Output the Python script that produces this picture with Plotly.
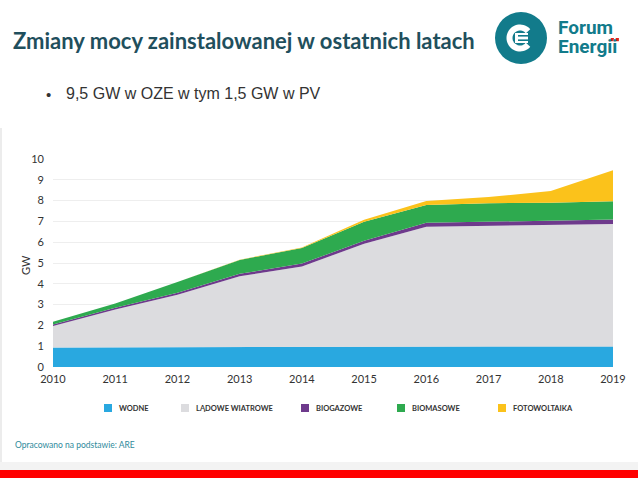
import math
import plotly.graph_objects as go

years = [2010, 2011, 2012, 2013, 2014, 2015, 2016, 2017, 2018, 2019]
series_names = ["WODNE", "LĄDOWE WIATROWE", "BIOGAZOWE", "BIOMASOWE", "FOTOWOLTAIKA"]
wodne = [0.94, 0.95, 0.95, 0.97, 0.98, 0.98, 0.99, 0.99, 0.98, 0.98]
ladowe = [1.03, 1.82, 2.52, 3.39, 3.85, 4.95, 5.75, 5.79, 5.83, 5.89]
biogazowe = [0.07, 0.08, 0.10, 0.12, 0.14, 0.14, 0.19, 0.20, 0.20, 0.22]
biomasowe = [0.14, 0.20, 0.52, 0.67, 0.75, 0.91, 0.86, 0.89, 0.89, 0.88]
fotowoltaika = [0.0, 0.0, 0.0, 0.01, 0.03, 0.10, 0.19, 0.30, 0.56, 1.49]
colors = ["#29a8e0", "#dcdcdf", "#6e3a8c", "#2eaa4f", "#fbc21b"]
y_ticks = list(range(0, 11))

W, H = 638, 478
L, R, T, B = 53, 613, 159, 367


def px(x):
    return (x - L) / (R - L)


def py(y):
    return (B - y) / (B - T)


fig = go.Figure()
for name, vals, col in zip(series_names, [wodne, ladowe, biogazowe, biomasowe, fotowoltaika], colors):
    fig.add_trace(go.Scatter(
        x=years, y=vals, name=name, stackgroup="one", mode="lines",
        line=dict(width=0, color=col), fillcolor=col, showlegend=False,
        hoverinfo="x+y+name",
    ))

shapes = []
annotations = []

# bottom gray strip and red bar
shapes.append(dict(type="rect", xref="paper", yref="paper", x0=px(0), x1=px(W), y0=py(470), y1=py(462),
                   fillcolor="#f3f3f3", line=dict(width=0), layer="below"))
shapes.append(dict(type="rect", xref="paper", yref="paper", x0=px(0), x1=px(W), y0=py(478), y1=py(470),
                   fillcolor="#ff0000", line=dict(width=0), layer="below"))
# faint left border of chart panel
shapes.append(dict(type="line", xref="paper", yref="paper", x0=px(1), x1=px(1), y0=py(128), y1=py(462),
                   line=dict(color="#ececec", width=2), layer="below"))

# logo circle
cx, cy, r = 521, 38, 26
shapes.append(dict(type="circle", xref="paper", yref="paper", x0=px(cx - r), x1=px(cx + r), y0=py(cy + r), y1=py(cy - r),
                   fillcolor="#127b8b", line=dict(width=0)))
# white C arc
pts = []
ac_x, ac_y, ar = 520, 38, 10.5
for i in range(0, 41):
    a = math.radians(40 + i * (280 / 40))
    pts.append((ac_x + ar * math.cos(a), ac_y - ar * math.sin(a)))
path = "M " + " L ".join(f"{px(x):.5f},{py(y):.5f}" for x, y in pts)
shapes.append(dict(type="path", xref="paper", yref="paper", path=path, line=dict(color="white", width=6)))
shapes.append(dict(type="rect", xref="paper", yref="paper", x0=px(515), x1=px(528), y0=py(43), y1=py(33),
                   fillcolor="white", line=dict(width=0)))
for yy in (35.8, 40.2):
    shapes.append(dict(type="line", xref="paper", yref="paper", x0=px(518), x1=px(529), y0=py(yy), y1=py(yy),
                       line=dict(color="#127b8b", width=1.6)))

# title
annotations.append(dict(text="<b>Zmiany mocy zainstalowanej w ostatnich latach</b>", xref="paper", yref="paper",
                        x=px(11), y=py(40), xanchor="left", yanchor="middle", showarrow=False,
                        font=dict(family="Lato", size=22, color="#1f4f5d")))
# logo text
annotations.append(dict(text="<b>Forum</b>", xref="paper", yref="paper", x=px(556), y=py(27),
                        xanchor="left", yanchor="middle", showarrow=False,
                        font=dict(family="Roboto", size=19, color="#127b8b")))
annotations.append(dict(text="<b>Energii</b>", xref="paper", yref="paper", x=px(556), y=py(47),
                        xanchor="left", yanchor="middle", showarrow=False,
                        font=dict(family="Roboto", size=19, color="#127b8b")))
# red dots over "ii"
for dx in (612.3, 617.3):
    shapes.append(dict(type="rect", xref="paper", yref="paper", x0=px(dx - 1.6), x1=px(dx + 1.6),
                       y0=py(41.2), y1=py(38.0), fillcolor="#e2231a", line=dict(width=0)))
# bullet
annotations.append(dict(text="•", xref="paper", yref="paper", x=px(44), y=py(94),
                        xanchor="left", yanchor="middle", showarrow=False,
                        font=dict(family="Liberation Sans", size=15, color="#333333")))
annotations.append(dict(text="9,5 GW w OZE w tym 1,5 GW w PV", xref="paper", yref="paper", x=px(64), y=py(93),
                        xanchor="left", yanchor="middle", showarrow=False,
                        font=dict(family="Liberation Sans", size=16, color="#333333")))
# GW axis title
annotations.append(dict(text="GW", xref="paper", yref="paper", x=px(25), y=py(265), textangle=-90,
                        xanchor="center", yanchor="middle", showarrow=False,
                        font=dict(family="Lato", size=11, color="#333333")))

# legend (manual)
legend_sq_x = [104, 181, 301, 397, 498]
for name, col, sx in zip(series_names, colors, legend_sq_x):
    shapes.append(dict(type="rect", xref="paper", yref="paper", x0=px(sx), x1=px(sx + 8), y0=py(412), y1=py(404),
                       fillcolor=col, line=dict(width=0)))
    annotations.append(dict(text=f"<b>{name}</b>", xref="paper", yref="paper", x=px(sx + 13), y=py(408),
                            xanchor="left", yanchor="middle", showarrow=False,
                            font=dict(family="Lato", size=7.5, color="#333333")))

# footnote
annotations.append(dict(text="Opracowano na podstawie: ARE", xref="paper", yref="paper", x=px(13), y=py(445),
                        xanchor="left", yanchor="middle", showarrow=False,
                        font=dict(family="Lato", size=8.5, color="#2f8a9c")))

fig.update_layout(
    width=W, height=H,
    margin=dict(l=L, r=W - R, t=T, b=H - B, pad=0),
    paper_bgcolor="white", plot_bgcolor="white",
    showlegend=False,
    shapes=shapes, annotations=annotations,
    font=dict(family="Lato", color="#333333"),
    xaxis=dict(range=[2010, 2019], tickvals=years, ticktext=[str(y) for y in years],
               showgrid=False, zeroline=False, showline=False, ticks="", ticklabelstandoff=4,
               tickfont=dict(family="Lato", size=11, color="#333333"), fixedrange=True),
    yaxis=dict(range=[0, 10], tickvals=y_ticks, showgrid=True, gridcolor="#eeeeee", gridwidth=1,
               zeroline=False, showline=False, ticks="", ticklabelstandoff=8,
               tickfont=dict(family="Lato", size=11, color="#333333"), fixedrange=True),
)

fig.write_html("out.html")
